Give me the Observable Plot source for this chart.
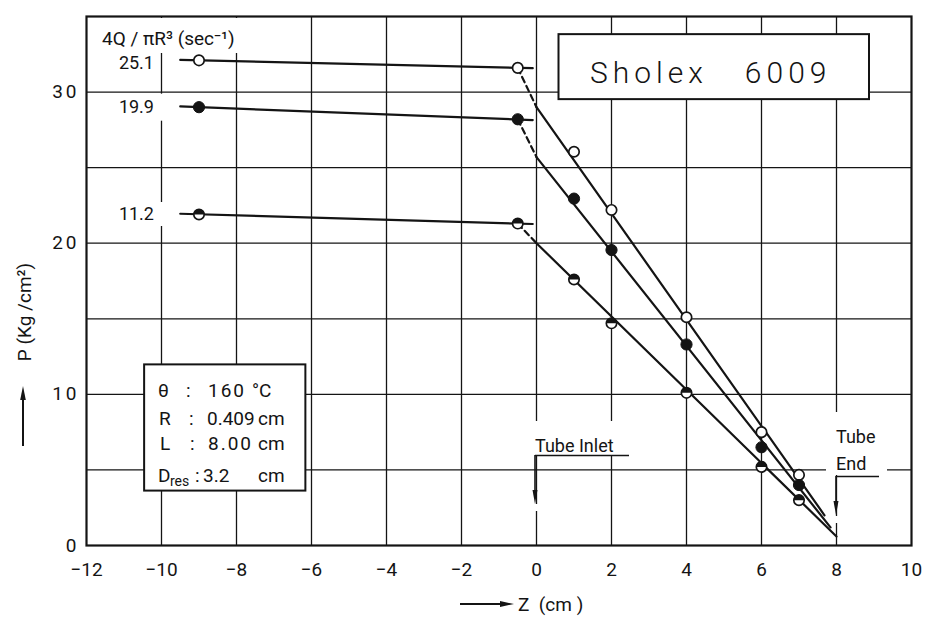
<!DOCTYPE html>
<html>
<head>
<meta charset="utf-8">
<script src="https://cdn.jsdelivr.net/npm/d3@7"></script>
<script src="https://cdn.jsdelivr.net/npm/@observablehq/plot@0.6"></script>
<style>
  html, body { margin: 0; padding: 0; background: #fff; }
  #chart svg { display: block; }
</style>
</head>
<body>
<div id="chart"></div>
<script>
// ---------------- data ----------------
const xTickValues = [-12, -10, -8, -6, -4, -2, 0, 2, 4, 6, 8, 10];
const yTickValues = [0, 10, 20, 30];
const xGridValues = [-10, -8, -6, -4, -2, 0, 2, 4, 6, 8];
const yGridValues = [5, 10, 15, 20, 25, 30];

const seriesLabels = ["25.1", "19.9", "11.2"];        // 4Q/πR³ (sec⁻¹)
const seriesKinds  = ["open", "filled", "half"];

const zMeasured = [-9, -0.5, 1, 2, 4, 6, 7];           // Z (cm)
const pOpen   = [32.1, 31.6, 26.05, 22.2, 15.1, 7.5, 4.67];
const pFilled = [29.0, 28.2, 22.95, 19.55, 13.3, 6.5, 4.0];
const pHalf   = [21.9, 21.3, 17.6, 14.7, 10.1, 5.2, 3.0];

// reservoir fit lines (start / end)
const reservoirZ      = [-9.5, -0.1];
const reservoirOpen   = [32.13, 31.58];
const reservoirFilled = [29.05, 28.15];
const reservoirHalf   = [21.95, 21.27];

// tube fit lines (start at tube inlet, end near tube end)
const tubeStartZ = [0, 0, 0];
const tubeStartP = [29.0, 25.7, 20.0];
const tubeEndZ   = [7.68, 7.84, 8.0];
const tubeEndP   = [2.0, 1.2, 0.6];

// ---------------- tables built from the arrays ----------------
const seriesValues = [pOpen, pFilled, pHalf];
const reservoirValues = [reservoirOpen, reservoirFilled, reservoirHalf];

const pointRows = [];
seriesLabels.forEach((s, i) => zMeasured.forEach((z, j) =>
  pointRows.push({series: s, kind: seriesKinds[i], z, p: seriesValues[i][j]})));

const resRows = [];
seriesLabels.forEach((s, i) => reservoirZ.forEach((z, j) =>
  resRows.push({series: s, z, p: reservoirValues[i][j]})));

const dashRows = [];
seriesLabels.forEach((s, i) => {
  dashRows.push({series: s, z: zMeasured[1], p: seriesValues[i][1]});
  dashRows.push({series: s, z: tubeStartZ[i], p: tubeStartP[i]});
});

const tubeRows = [];
seriesLabels.forEach((s, i) => {
  tubeRows.push({series: s, z: tubeStartZ[i], p: tubeStartP[i]});
  tubeRows.push({series: s, z: tubeEndZ[i], p: tubeEndP[i]});
});

// annotation boxes (layout, in data units)
const boxes = [
  {name: "title",  x1: 0.6,    x2: 8.88,  y1: 29.5, y2: 33.8},
  {name: "params", x1: -10.45, x2: -6.15, y1: 3.6,  y2: 11.95}
];

const ink = "#141414";
const font = "Roboto, 'DejaVu Sans', sans-serif";

const topHalf = {
  draw(ctx, size) {
    const r = Math.sqrt(size / Math.PI);
    ctx.moveTo(r, 0);
    ctx.arc(0, 0, r, 0, Math.PI, true);
    ctx.closePath();
  }
};

const plot = Plot.plot({
  width: 926,
  height: 618,
  marginTop: 16,
  marginRight: 15,
  marginBottom: 73,
  marginLeft: 86,
  style: {fontFamily: font, fontSize: "19px", color: ink, background: "white", overflow: "visible"},
  x: {domain: [-12, 10]},
  y: {domain: [0, 35]},
  marks: [
    Plot.ruleX(xGridValues, {stroke: ink, strokeWidth: 1.3}),
    Plot.ruleY(yGridValues, {stroke: ink, strokeWidth: 1.3}),
    Plot.rect(boxes, {x1: "x1", x2: "x2", y1: "y1", y2: "y2", fill: "white", stroke: ink, strokeWidth: 2}),
    Plot.line(resRows, {x: "z", y: "p", z: "series", stroke: ink, strokeWidth: 2.2}),
    Plot.line(dashRows, {x: "z", y: "p", z: "series", stroke: ink, strokeWidth: 2.2, strokeDasharray: "6,4"}),
    Plot.line(tubeRows, {x: "z", y: "p", z: "series", stroke: ink, strokeWidth: 2.2}),
    Plot.dot(pointRows.filter(d => d.kind !== "filled"), {x: "z", y: "p", r: 5.2, fill: "white", stroke: ink, strokeWidth: 1.7}),
    Plot.dot(pointRows.filter(d => d.kind === "filled"), {x: "z", y: "p", r: 5.6, fill: ink, stroke: ink, strokeWidth: 1}),
    Plot.dot(pointRows.filter(d => d.kind === "half"), {x: "z", y: "p", r: 5.4, symbol: topHalf, fill: ink}),
    Plot.frame({stroke: ink, strokeWidth: 2.2}),
    Plot.axisX({ticks: xTickValues, tickSize: 0, tickPadding: 17, fontSize: 19, label: null}),
    Plot.axisY({ticks: yTickValues, tickSize: 0, tickPadding: 7, fontSize: 19, label: null})
  ]
});

document.getElementById("chart").appendChild(plot);

// ---------------- annotations ----------------
const svg = d3.select(plot);
const sx = plot.scale("x"), sy = plot.scale("y");
const X = v => sx.apply(v), Y = v => sy.apply(v);

svg.selectAll('g[aria-label="y-axis tick label"] text').style("letter-spacing", "3px");

const g = svg.append("g").attr("fill", ink).style("font-family", font);

function whiteRect(x1, y1, x2, y2) {
  g.append("rect").attr("x", x1).attr("y", y1).attr("width", x2 - x1).attr("height", y2 - y1).attr("fill", "white");
}
function label(x, y, s, opts = {}) {
  const t = g.append("text")
    .attr("x", x).attr("y", y)
    .attr("font-size", opts.size || 19)
    .attr("text-anchor", opts.anchor || "start")
    .attr("dominant-baseline", opts.baseline || "central")
    .style("white-space", "pre")
    .text(s);
  if (opts.weight) t.attr("font-weight", opts.weight);
  if (opts.spacing) t.style("letter-spacing", opts.spacing + "px");
  if (opts.rotate) t.attr("transform", `rotate(${opts.rotate},${x},${y})`);
  return t;
}
function line(x1, y1, x2, y2, w = 1.6) {
  g.append("line").attr("x1", x1).attr("y1", y1).attr("x2", x2).attr("y2", y2)
    .attr("stroke", ink).attr("stroke-width", w);
}
function head(d) {
  g.append("path").attr("d", d).attr("fill", ink);
}

// legend header and series labels
whiteRect(97, 18, 262, 53);
label(102, 38, "4Q / πR³ (sec⁻¹)", {size: 19});
whiteRect(112, Y(pFilled[0]) - 13, 163, Y(pFilled[0]) + 14);
whiteRect(112, Y(pHalf[0]) - 12, 163, Y(pHalf[0]) + 12);
seriesLabels.forEach((s, i) => {
  label(154, Y(seriesValues[i][0]) + (i === 0 ? 3 : 0), s, {size: 18, anchor: "end"});
});

// title box text
label(590, 72, "Sholex   6009", {size: 30, spacing: 5, weight: 300});

// parameter box text
const pr = [390, 418, 443, 475];
label(158, pr[0], "θ", {size: 19});
label(186, pr[0], ":", {size: 19});
label(208, pr[0], "160", {size: 19, spacing: 2});
label(252, pr[0], "°C", {size: 19});
label(159, pr[1], "R", {size: 19});
label(189, pr[1], ":", {size: 19});
label(207, pr[1], "0.409", {size: 19});
label(258, pr[1], "cm", {size: 19});
label(160, pr[2], "L", {size: 19});
label(190, pr[2], ":", {size: 19});
label(208, pr[2], "8.00", {size: 19, spacing: 2});
label(258, pr[2], "cm", {size: 19});
label(158, pr[3], "D", {size: 19});
label(170, pr[3] + 6, "res", {size: 14});
label(195, pr[3], ":", {size: 19});
label(203, pr[3], "3.2", {size: 19});
label(258, pr[3], "cm", {size: 19});

// Tube Inlet
whiteRect(X(0) - 6, 421, 633, 456);
label(535, 452, "Tube Inlet", {size: 18, baseline: "alphabetic"});
line(535, 455.5, 629, 455.5, 1.5);
line(X(0) - 1, 455, X(0) - 1, 492, 1.6);
head(`M${X(0) - 3.5},490 L${X(0) + 1.5},490 L${X(0) - 1},504 Z`);
whiteRect(X(0) - 4, 504, X(0) + 3, 511);

// Tube End
whiteRect(826, 412, 887, 475);
label(836, 443, "Tube", {size: 18, baseline: "alphabetic"});
label(836, 470, "End", {size: 18, baseline: "alphabetic"});
line(X(8), 476.5, 879, 476.5, 1.5);
line(X(8), 476, X(8), 503, 1.6);
head(`M${X(8) - 2.5},501 L${X(8) + 2.5},501 L${X(8)},515 Z`);
whiteRect(X(8) - 3, 516, X(8) + 3, 523);

// axis titles
line(23, 446, 23, 396, 2);
head("M20.2,400 L25.8,400 L23,386 Z");
label(24, 312, "P (Kg /cm²)", {size: 19, anchor: "middle", rotate: -90});
line(460, 604, 502, 604, 2);
head("M500,601 L500,607 L514,604 Z");
label(518, 604, "Z  (cm )", {size: 19});
</script>
</body>
</html>
